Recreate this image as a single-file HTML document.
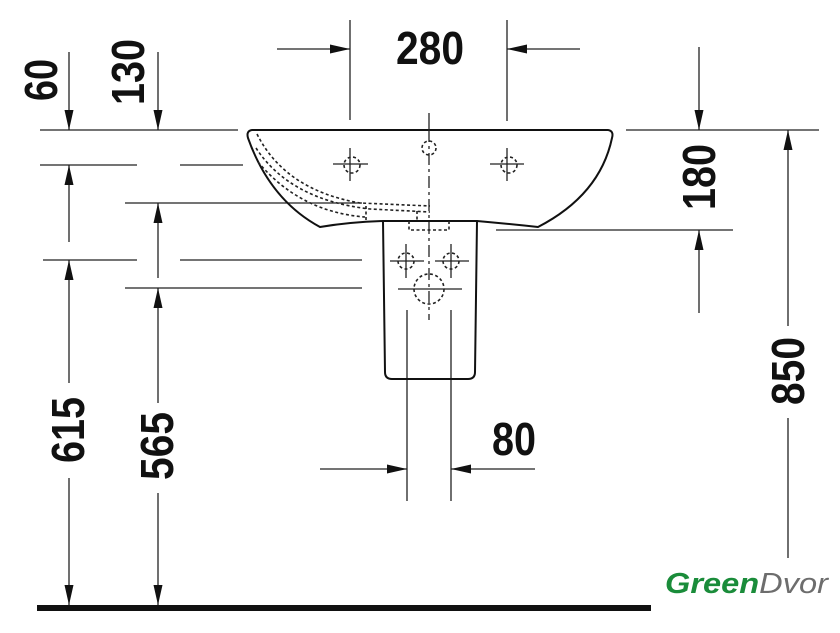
<!DOCTYPE html>
<html><head><meta charset="utf-8"><style>
html,body{margin:0;padding:0;background:#fff}
svg{display:block}
.t{font-family:"Liberation Sans",sans-serif;font-weight:bold;font-size:46px;fill:#111}
</style></head><body>
<svg width="840" height="633" viewBox="0 0 840 633" xmlns="http://www.w3.org/2000/svg">
<defs>
<marker id="a" viewBox="0 0 10 10" refX="10" refY="5" markerWidth="20" markerHeight="9" markerUnits="userSpaceOnUse" orient="auto" preserveAspectRatio="none"><path d="M0,0 L10,5 L0,10 z" fill="#111"/></marker>
</defs>
<g stroke="#222" stroke-width="1.3" fill="none">
<line x1="350" y1="20" x2="350" y2="120"/>
<line x1="507" y1="20" x2="507" y2="121"/>
<line x1="277" y1="49" x2="350" y2="49" marker-end="url(#a)"/>
<line x1="580" y1="49" x2="507" y2="49" marker-end="url(#a)"/>
<line x1="40" y1="130" x2="238" y2="130"/>
<line x1="40" y1="165" x2="137" y2="165"/>
<line x1="180" y1="165" x2="243" y2="165"/>
<line x1="125" y1="203" x2="362" y2="203"/>
<line x1="43" y1="260" x2="137" y2="260"/>
<line x1="180" y1="260" x2="362" y2="260"/>
<line x1="125" y1="288" x2="362" y2="288"/>
<line x1="69" y1="52" x2="69" y2="130" marker-end="url(#a)"/>
<line x1="158" y1="52" x2="158" y2="130" marker-end="url(#a)"/>
<line x1="69" y1="242" x2="69" y2="165" marker-end="url(#a)"/>
<line x1="158" y1="278" x2="158" y2="203" marker-end="url(#a)"/>
<line x1="69" y1="383" x2="69" y2="260" marker-end="url(#a)"/>
<line x1="69" y1="478" x2="69" y2="605" marker-end="url(#a)"/>
<line x1="158" y1="403" x2="158" y2="288" marker-end="url(#a)"/>
<line x1="158" y1="493" x2="158" y2="605" marker-end="url(#a)"/>
<line x1="626" y1="130" x2="819" y2="130"/>
<line x1="496" y1="230" x2="733" y2="230"/>
<line x1="699" y1="47" x2="699" y2="130" marker-end="url(#a)"/>
<line x1="699" y1="313" x2="699" y2="230" marker-end="url(#a)"/>
<line x1="788" y1="326" x2="788" y2="130" marker-end="url(#a)"/>
<line x1="788" y1="418" x2="788" y2="558"/>
<line x1="407" y1="310" x2="407" y2="501"/>
<line x1="451" y1="310" x2="451" y2="501"/>
<line x1="320" y1="469" x2="407" y2="469" marker-end="url(#a)"/>
<line x1="535" y1="469" x2="451" y2="469" marker-end="url(#a)"/>
</g>
<g stroke="#111" stroke-width="2" fill="none" stroke-linejoin="round">
<path d="M252,130 L608,130 Q614,131 612,138 Q600,195 538,227 Q510,224 477,221 L383,221 Q350,222 320,227 Q270,200 248,138 Q246,131 252,130 Z"/>
<path d="M383,221 L385,372 Q385,379 392,379 L468,379 Q475,379 475,372 L477,221"/>
</g>
<g stroke="#222" stroke-width="1.3" fill="none">
<line x1="429" y1="113" x2="429" y2="130"/>
<line x1="429" y1="130" x2="429" y2="320" stroke-dasharray="12,4,3,4"/>
<line x1="333" y1="164" x2="368" y2="164"/><line x1="350" y1="148" x2="350" y2="181"/>
<line x1="490" y1="164" x2="524" y2="164"/><line x1="507" y1="148" x2="507" y2="181"/>
<line x1="390" y1="261" x2="424" y2="261"/><line x1="406" y1="244" x2="406" y2="278"/>
<line x1="435" y1="261" x2="469" y2="261"/><line x1="451" y1="244" x2="451" y2="278"/>
<line x1="398" y1="289" x2="462" y2="289"/>
</g>
<g stroke="#222" stroke-width="1.6" fill="none" stroke-dasharray="3,2.5">
<circle cx="352" cy="165" r="8"/><circle cx="509" cy="165" r="8"/>
<circle cx="429" cy="148" r="7"/>
<circle cx="406" cy="261" r="8"/><circle cx="451" cy="261" r="8"/>
<circle cx="429" cy="289" r="15"/>
<path d="M257,134 Q285,190 360,203 L430,206"/>
<path d="M256,148 Q290,200 370,209 L430,212"/>
<path d="M258,162 Q300,212 365,217"/>
<path d="M366,206 L366,220"/>
<path d="M409,221 L409,230 L449,230 L449,221"/>
<path d="M417,211 L417,221"/>
</g>
<rect x="37" y="605" width="614" height="6" fill="#111"/>
<text class="t" x="430" y="64" text-anchor="middle" textLength="68" lengthAdjust="spacingAndGlyphs">280</text>
<text class="t" x="514" y="455" text-anchor="middle" textLength="44" lengthAdjust="spacingAndGlyphs">80</text>
<text class="t" transform="translate(57,80) rotate(-90)" text-anchor="middle" textLength="42" lengthAdjust="spacingAndGlyphs">60</text>
<text class="t" transform="translate(144,72) rotate(-90)" text-anchor="middle" textLength="66" lengthAdjust="spacingAndGlyphs">130</text>
<text class="t" transform="translate(715,177) rotate(-90)" text-anchor="middle" textLength="66" lengthAdjust="spacingAndGlyphs">180</text>
<text class="t" transform="translate(804,371) rotate(-90)" text-anchor="middle" textLength="68" lengthAdjust="spacingAndGlyphs">850</text>
<text class="t" transform="translate(84,430) rotate(-90)" text-anchor="middle" textLength="66" lengthAdjust="spacingAndGlyphs">615</text>
<text class="t" transform="translate(173,446) rotate(-90)" text-anchor="middle" textLength="68" lengthAdjust="spacingAndGlyphs">565</text>
<text x="665" y="593" font-family="Liberation Sans,sans-serif" font-style="italic" font-size="29" textLength="163" lengthAdjust="spacingAndGlyphs"><tspan fill="#1a8c3a" font-weight="bold">Green</tspan><tspan fill="#6d6d6d">Dvor</tspan></text>
</svg>
</body></html>
